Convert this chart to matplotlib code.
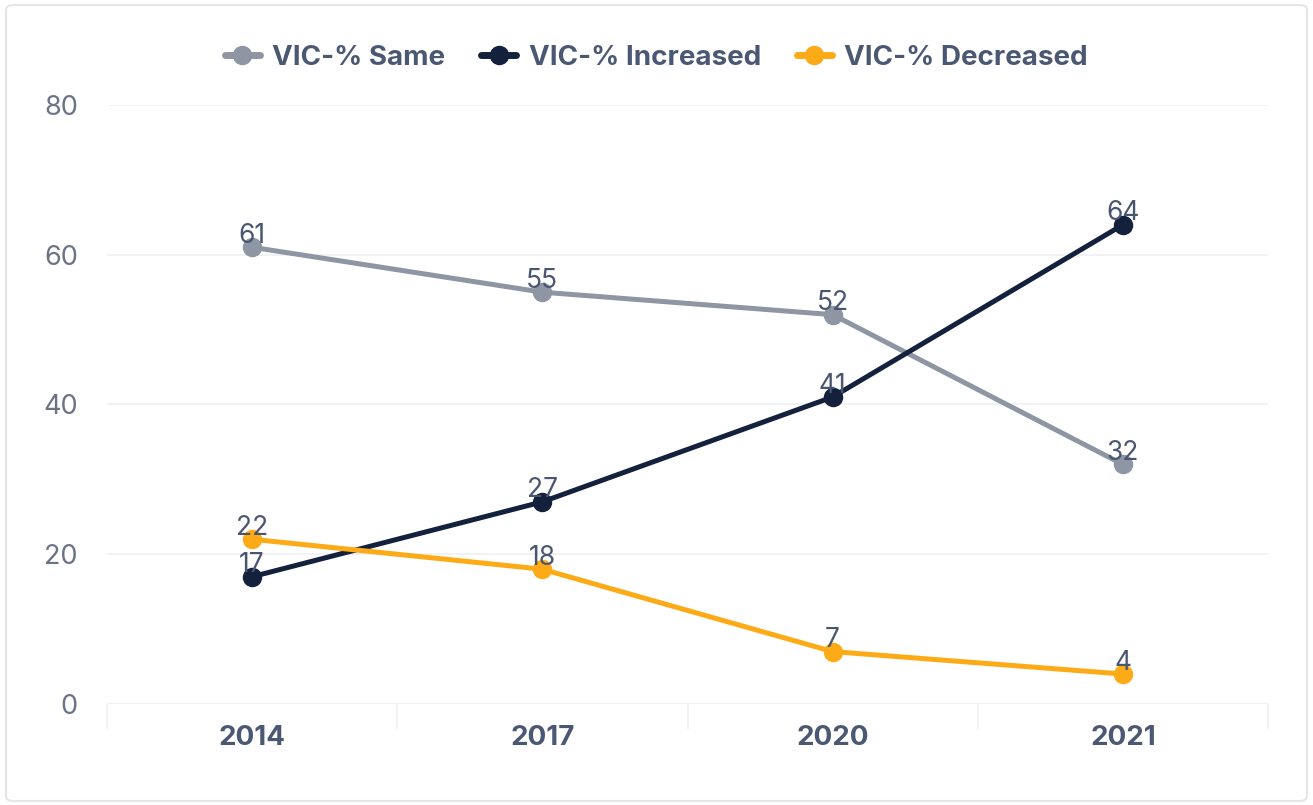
import matplotlib.pyplot as plt
from matplotlib.patches import FancyBboxPatch

plt.rcParams['font.family'] = ['Inter', 'DejaVu Sans']

# data
years = ['2014', '2017', '2020', '2021']
same = [61, 55, 52, 32]
increased = [17, 27, 41, 64]
decreased = [22, 18, 7, 4]

series = [
    ('VIC-% Same', same, '#8f96a3'),
    ('VIC-% Increased', increased, '#14213d'),
    ('VIC-% Decreased', decreased, '#fcab17'),
]

fig = plt.figure(figsize=(13.13, 8.05), dpi=100)
ax = fig.add_axes([107 / 1313, 1 - 704 / 805, (1268 - 107) / 1313, (704 - 105) / 805])

# outer card border
card = FancyBboxPatch((6 / 1313, 4 / 805), 1301 / 1313, 796 / 805,
                      boxstyle='round,pad=0,rounding_size=0.006',
                      transform=fig.transFigure, facecolor='white',
                      edgecolor='#e3e5e8', linewidth=1.5, zorder=-10)
fig.patches.append(card)

x = list(range(len(years)))
for name, vals, color in series:
    ax.plot(x, vals, color=color, linewidth=3.6, marker='o', markersize=13,
            label=name, solid_capstyle='round', zorder=3)
    for xi, v in zip(x, vals):
        ax.text(xi, v - 0.2, str(v), ha='center', va='bottom', fontsize=19,
                color='#4a5670', zorder=4)

ax.set_xlim(-0.5, 3.5)
ax.set_ylim(0, 80)
ax.set_yticks([0, 20, 40, 60, 80])
ax.set_xticks(x)
ax.set_xticklabels(years, fontsize=20, fontweight='bold', color='#4b5873')
ax.set_xticks([-0.5, 0.5, 1.5, 2.5, 3.5], minor=True)
ax.tick_params(axis='x', which='major', length=0, pad=15)
ax.tick_params(axis='x', which='minor', length=18, color='#eef0f2', width=1.2)
ax.tick_params(axis='y', length=0, pad=21, labelsize=19.5, labelcolor='#6b7385')

ax.grid(axis='y', color='#eef0f2', linewidth=1.2, zorder=0)
ax.set_axisbelow(True)
for s in ax.spines.values():
    s.set_visible(False)
ax.axhline(0, color='#eef0f2', linewidth=1.5, zorder=1)

leg = fig.legend(loc='upper center', bbox_to_anchor=(0.5, 1 - 20 / 805), ncol=3,
                 frameon=False, handlelength=1.25, handletextpad=0.45,
                 columnspacing=1.3,
                 prop={'size': 20, 'weight': 'bold'})
for t in leg.get_texts():
    t.set_color('#4b5873')
for h in leg.legend_handles:
    h.set_markersize(13)
    h.set_linewidth(5)

fig.savefig('out.png', dpi=100)
